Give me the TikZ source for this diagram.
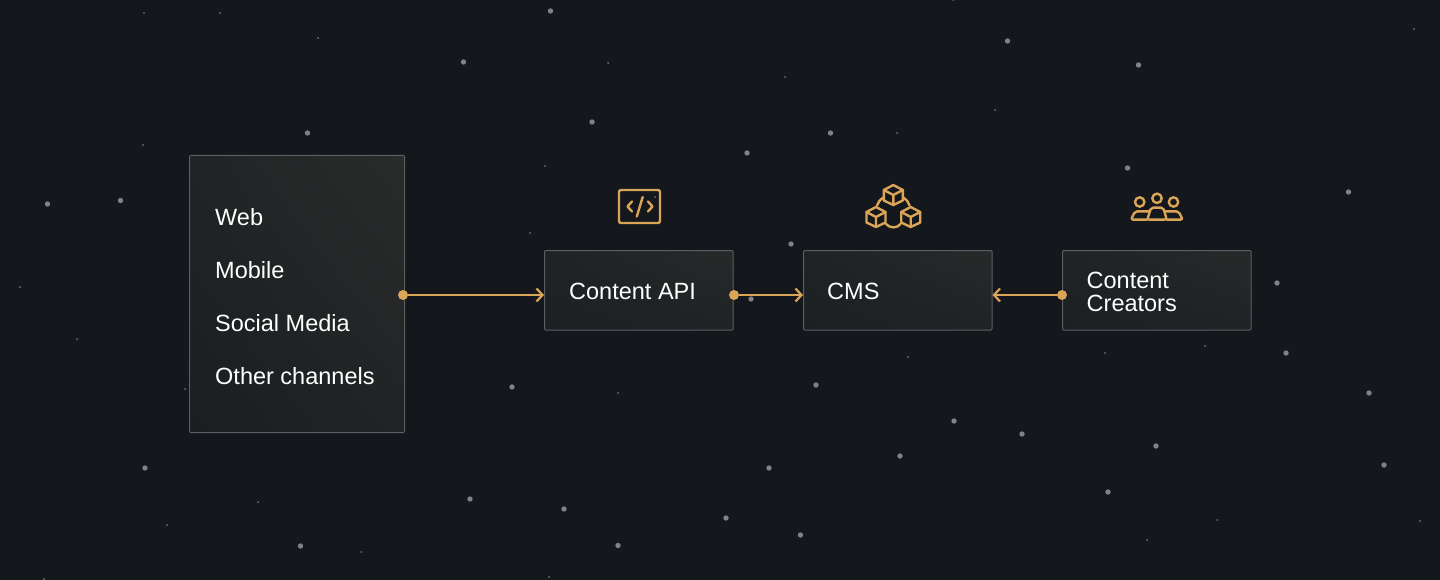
\documentclass[tikz,border=0pt]{standalone}
\usepackage{fontspec}
\setmainfont{Liberation Sans}
\usetikzlibrary{arrows.meta,shadings}
\definecolor{bgc}{HTML}{14171C}
\definecolor{acc}{HTML}{DBA558}
\definecolor{edgec}{HTML}{5C5E60}
\definecolor{starc}{HTML}{828284}
\definecolor{gradA}{HTML}{1A1E21}
\definecolor{gradB}{HTML}{2A2B2B}
\definecolor{gradM}{HTML}{212425}
\definecolor{smallA}{HTML}{1C2023}
\definecolor{smallB}{HTML}{272929}
\definecolor{smallM}{HTML}{202325}
\tikzset{
  x=1pt,y=-1pt,
  panel/.style={draw=edgec,line width=1pt,rounded corners=1pt,inner sep=0pt,
    lower left=gradA,upper right=gradB,upper left=gradM,lower right=gradM},
  panelsmall/.style={draw=edgec,line width=1pt,rounded corners=1pt,inner sep=0pt,
    minimum width=188.5pt,minimum height=79.5pt,
    lower left=smallA,upper right=smallB,upper left=smallM,lower right=smallM},
  txt/.style={text=white,font=\fontsize{23.5}{23}\selectfont,anchor=west,inner sep=0pt,align=left},
  dot/.style={circle,fill=acc,inner sep=0pt,minimum size=10pt},
  conn/.style={draw=acc,line width=2.2pt},
  barb/.style={-{Straight Barb[length=6pt,width=13pt,line width=2.2pt]}},
  icon/.style={draw=acc,line width=2.4pt,line join=round,line cap=round},
  big/.style={fill=starc},
  small/.style={fill=starc!85!bgc}
}
\newcommand{\cube}[2]{%
  \draw[icon] (#1,#2-10) -- (#1+9.5,#2-5) -- (#1+9.5,#2+5.5) -- (#1,#2+10) -- (#1-9.5,#2+5.5) -- (#1-9.5,#2-5) -- cycle;
  \draw[icon] (#1-9.5,#2-5) -- (#1,#2) -- (#1+9.5,#2-5) (#1,#2) -- (#1,#2+10);
}
\begin{document}
\begin{tikzpicture}
\useasboundingbox (0,0) rectangle (1440,580);
\fill[bgc] (0,0) rectangle (1440,580);
% stars
\foreach \a/\b in {550.5/11,1007.5/41,463.5/62,1138.5/65,592/122,307.5/133,830.5/133,747/153,1127.5/168,47.5/204,120.5/200.5,1348.5/192,791/244,751/299,1277/283,1286/353,512/387,816/385,1369/393,954/421,1022/434,1156/446,145/468,769/468,900/456,1384/465,470/499,1108/492,564/509,726/518,800.5/535,300.5/546,618/545.5}
  \fill[big] (\a,\b) circle (2.7);
\foreach \a/\b in {144/13,220/13,318/38,608/63,785/77,995/110,1414/29,953/0,143/145,897/133,545/166,530/233,20/287,77/339,185/389,618/393,908/357,1105/353,1205/346,258/502,167/525,361/552,1217/520,1147/540,1420/521,549/577,44/579,655/197}
  \fill[small] (\a,\b) circle (1);
% panels
\node[panel,minimum width=215pt,minimum height=277pt] (chan) at (297,294) {};
\node[panelsmall] (api) at (638.75,290.25) {};
\node[panelsmall] (cms) at (897.75,290.25) {};
\node[panelsmall] (creators) at (1156.75,290.25) {};
% texts
\node[txt] (t1) at (215,217) {Web};
\node[txt] (t2) at (215,270) {Mobile};
\node[txt] (t3) at (215,323) {Social Media};
\node[txt] (t4) at (215,376) {Other channels};
\node[txt] (t5) at (569,291.5) {Content API};
\node[txt] (t6) at (827,291.5) {CMS};
\node[txt] (t7) at (1086.5,291.5) {Content\\Creators};
% connectors
\node[dot] (d1) at (403,295) {};
\node[dot] (d2) at (734,295) {};
\node[dot] (d3) at (1062,295) {};
\draw[conn,barb] (d1) -- (api.west |- d1);
\draw[conn,barb] (d2) -- (cms.west |- d2);
\draw[conn,barb] (d3) -- (cms.east |- d3);
% code icon
\draw[icon,rounded corners=2pt] (619,190) rectangle (660,223);
\draw[icon] (632,201.5) -- (627.5,206.5) -- (632,211.5);
\draw[icon] (648,201.5) -- (652.5,206.5) -- (648,211.5);
\draw[icon] (642.7,197) -- (636.8,216.5);
% cubes icon
\cube{893.3}{195}
\cube{876}{217}
\cube{910.7}{217}
\draw[icon] (877,205.5) .. controls (877.8,202.5) and (880,199.5) .. (883.5,197.5);
\draw[icon] (909.6,205.5) .. controls (908.8,202.5) and (906.6,199.5) .. (903,197.5);
\draw[icon] (886,224) .. controls (890,228.5) and (897,228.5) .. (900.6,224);
% people icon
\draw[icon] (1139.7,202) circle (4.7);
\draw[icon] (1157,198.3) circle (4.7);
\draw[icon] (1173.5,202) circle (4.7);
\draw[icon,rounded corners=2pt] (1147.3,219.6) -- (1151,207.7) -- (1163.3,207.7) -- (1166.7,219.6) -- cycle;
\draw[icon,rounded corners=2pt] (1149,211.4) -- (1135,211.4) -- (1131,219.6) -- (1147.3,219.6);
\draw[icon,rounded corners=2pt] (1165.5,211.4) -- (1178.5,211.4) -- (1182.7,219.6) -- (1166.7,219.6);
\end{tikzpicture}
\end{document}
